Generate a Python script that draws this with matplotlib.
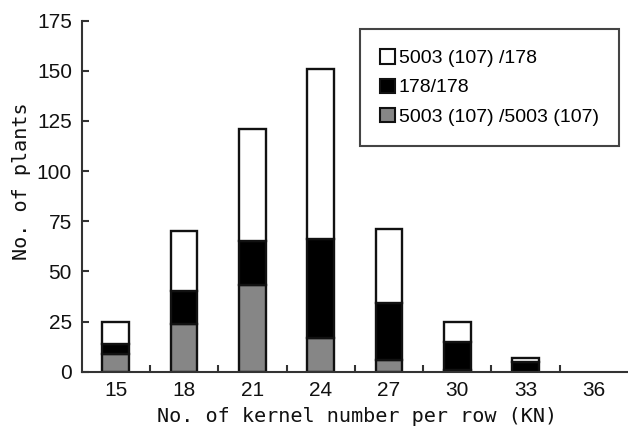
import matplotlib
matplotlib.use("Agg")
import matplotlib.pyplot as plt
from matplotlib.patches import Patch
import numpy as np

categories = ["15", "18", "21", "24", "27", "30", "33", "36"]
gray_vals = [9, 24, 43, 17, 6, 1, 0, 0]      # 5003(107)/5003(107)
black_vals = [5, 16, 22, 49, 28, 14, 5, 0]   # 178/178
white_vals = [11, 30, 56, 85, 37, 10, 2, 0]  # 5003(107)/178
yticks = [0, 25, 50, 75, 100, 125, 150, 175]
legend_labels = ["5003 (107) /178", "178/178", "5003 (107) /5003 (107)"]

GRAY = "#868686"
EDGE = "#111111"
AX = "#333333"
tick_font = ["Liberation Sans"]
leg_font = ["Liberation Sans"]
lab_font = ["DejaVu Sans Mono"]

fig = plt.figure(figsize=(6.28, 4.32), dpi=100)
ax = fig.add_axes([0.130, 0.1396, 0.870, 0.8125])

x = np.arange(len(categories))
w = 0.39
g = np.array(gray_vals)
b = np.array(black_vals)
wh = np.array(white_vals)
mask = (g + b + wh) > 0
lw = 1.7
ax.bar(x[mask], g[mask], w, color=GRAY, edgecolor=EDGE, linewidth=lw, zorder=2)
ax.bar(x[mask], b[mask], w, bottom=g[mask], color="black", edgecolor=EDGE, linewidth=lw, zorder=2)
ax.bar(x[mask], wh[mask], w, bottom=(g + b)[mask], color="white", edgecolor=EDGE, linewidth=lw, zorder=2)

ax.set_xlim(-0.5, 7.5)
ax.set_ylim(0, 175)
ax.set_yticks(yticks)
ax.set_xticks(x)
ax.set_xticklabels(categories)
ax.set_xticks(np.arange(0.5, 7.0, 1.0), minor=True)

for s in ["top", "right"]:
    ax.spines[s].set_visible(False)
for s in ["left", "bottom"]:
    ax.spines[s].set_color(AX)
    ax.spines[s].set_linewidth(1.5)

ax.tick_params(axis="y", direction="in", length=5, width=1.5, color=AX, pad=7, labelsize=15)
ax.tick_params(axis="x", which="major", length=0, pad=7, labelsize=15)
ax.tick_params(axis="x", which="minor", direction="in", length=5, width=1.5, color=AX)
for lab in ax.get_xticklabels() + ax.get_yticklabels():
    lab.set_family(tick_font)
    lab.set_color("#111111")

fig.text(22 / 628, 1 - 181 / 432, "No. of plants", rotation=90, ha="center", va="center",
         family=lab_font, fontsize=14.5, color="#111111")
fig.text((160 + 555) / 2 / 628, 1 - 417 / 432, "No. of kernel number per row (KN)",
         ha="center", va="center", family=lab_font, fontsize=14.5, color="#111111")

handles = [Patch(facecolor="white", edgecolor=EDGE, linewidth=1.5),
           Patch(facecolor="black", edgecolor=EDGE, linewidth=1.5),
           Patch(facecolor=GRAY, edgecolor=EDGE, linewidth=1.5)]
leg = fig.legend(handles, legend_labels, loc="upper left",
                 bbox_to_anchor=(360 / 628, 1 - 29 / 432), bbox_transform=fig.transFigure,
                 prop={"family": leg_font, "size": 14}, fancybox=False, framealpha=1,
                 edgecolor="#444444", borderpad=1.05, handlelength=0.75, handleheight=0.75,
                 handletextpad=0.2, labelspacing=0.58, borderaxespad=0)
leg.get_frame().set_linewidth(1.5)

fig.savefig("out.png", dpi=100)
